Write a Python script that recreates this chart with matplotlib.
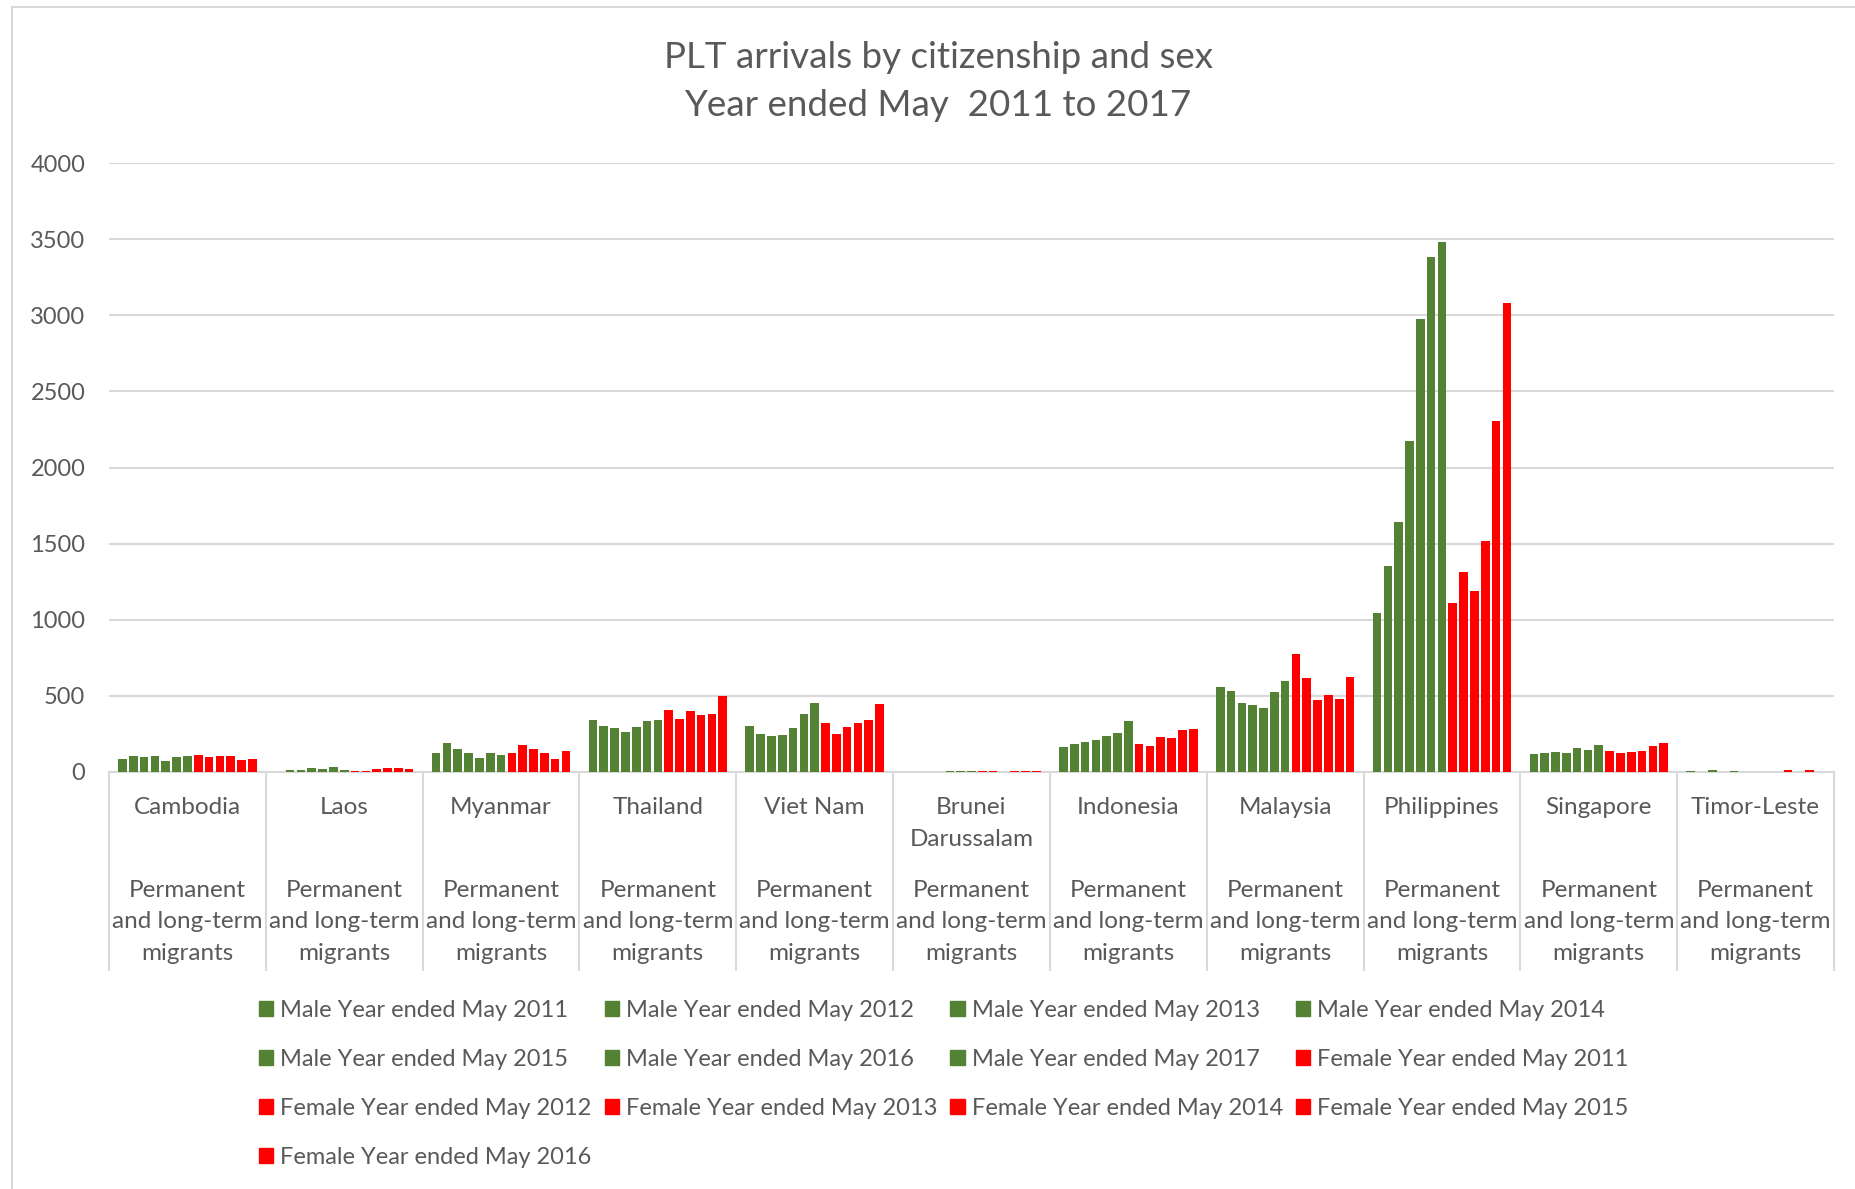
import matplotlib.pyplot as plt
import matplotlib.transforms as mtransforms
from matplotlib.patches import Patch, Rectangle
import numpy as np

plt.rcParams['font.family'] = ['Lato', 'DejaVu Sans']

countries = ['Cambodia', 'Laos', 'Myanmar', 'Thailand', 'Viet Nam', 'Brunei\nDarussalam',
             'Indonesia', 'Malaysia', 'Philippines', 'Singapore', 'Timor-Leste']
sub_label = 'Permanent\nand long-term\nmigrants'

male_years = [2011, 2012, 2013, 2014, 2015, 2016, 2017]
female_years = [2011, 2012, 2013, 2014, 2015, 2016]

# PLT arrivals per year, one list per year in country order
male_counts = [
    [86, 3, 126, 341, 305, 2, 167, 557, 1047, 117, 7],
    [106, 11, 188, 301, 248, 2, 185, 531, 1354, 122, 2],
    [97, 15, 148, 288, 239, 2, 198, 452, 1641, 133, 15],
    [102, 27, 128, 265, 241, 2, 211, 441, 2173, 126, 1],
    [73, 18, 95, 294, 290, 4, 236, 421, 2978, 157, 9],
    [100, 31, 122, 338, 378, 4, 256, 526, 3383, 142, 2],
    [102, 15, 111, 341, 456, 4, 337, 597, 3482, 177, 2],
]
female_counts = [
    [111, 8, 122, 405, 321, 7, 185, 773, 1113, 135, 1],
    [100, 9, 177, 345, 252, 9, 172, 615, 1316, 128, 2],
    [104, 18, 148, 403, 294, 3, 229, 476, 1191, 131, 15],
    [104, 27, 126, 376, 321, 9, 222, 504, 1518, 135, 2],
    [80, 24, 86, 383, 341, 7, 275, 478, 2305, 170, 15],
    [84, 18, 137, 496, 449, 7, 280, 623, 3081, 188, 1],
]

green = '#548235'
red = '#FF0000'
text_col = '#595959'
grid_col = '#D9D9D9'

W, H = 1855, 1189
fig = plt.figure(figsize=(W / 100, H / 100), dpi=100)
ax = fig.add_axes([109 / W, 1 - 772 / H, (1834 - 109) / W, (772 - 163) / H])

# chart area outline
fig.patches.append(Rectangle((12 / W, -0.05), 1.2, 1 - 7 / H + 0.05, transform=fig.transFigure,
                             fill=False, edgecolor=grid_col, linewidth=1.5))

x = np.arange(len(countries))
n_series = len(male_years) + len(female_years)
slot = 0.069
bar_w = slot * 0.8
offsets = (np.arange(n_series) - (n_series - 1) / 2) * slot

handles = []
for k, (yr, vals) in enumerate(zip(male_years, male_counts)):
    ax.bar(x + offsets[k], vals, width=bar_w, color=green, zorder=3)
    handles.append(Patch(color=green, label=f'Male Year ended May {yr}'))
for k, (yr, vals) in enumerate(zip(female_years, female_counts)):
    ax.bar(x + offsets[len(male_years) + k], vals, width=bar_w, color=red, zorder=3)
    handles.append(Patch(color=red, label=f'Female Year ended May {yr}'))

ax.set_xlim(-0.5, len(countries) - 0.5)
ax.set_ylim(0, 4000)
ax.set_yticks(np.arange(0, 4001, 500))
ax.yaxis.grid(True, color=grid_col, linewidth=1.5)
ax.set_axisbelow(True)
for s in ['left', 'right', 'top']:
    ax.spines[s].set_visible(False)
ax.spines['bottom'].set_color(grid_col)
ax.spines['bottom'].set_linewidth(1.5)
ax.tick_params(axis='y', length=0, pad=17, labelsize=17, labelcolor=text_col)
ax.set_xticks([])

# two-level category axis with separators
trans = mtransforms.blended_transform_factory(ax.transData, ax.transAxes)
for b in np.arange(-0.5, len(countries), 1.0):
    ax.plot([b, b], [0, -0.325], transform=trans, color=grid_col, linewidth=1.5, clip_on=False)
for i, name in enumerate(countries):
    ax.text(i, -0.041, name, transform=trans, ha='center', va='top', fontsize=17.5,
            color=text_col, linespacing=1.62)
    ax.text(i, -0.177, sub_label, transform=trans, ha='center', va='top', fontsize=17.5,
            color=text_col, linespacing=1.62)

fig.text(938 / W, 1 - 57 / H, 'PLT arrivals by citizenship and sex', ha='center', va='center',
         fontsize=26.5, color=text_col)
fig.text(938 / W, 1 - 105 / H, 'Year ended May  2011 to 2017', ha='center', va='center',
         fontsize=26.5, color=text_col)

# row-major legend order over 4 columns
order = [0, 4, 8, 12, 1, 5, 9, 2, 6, 10, 3, 7, 11]
leg = fig.legend([handles[i] for i in order], [handles[i].get_label() for i in order],
                 ncol=4, loc='upper left', bbox_to_anchor=(259 / W, 1 - 1000 / H),
                 frameon=False, fontsize=17, labelcolor=text_col, borderpad=0,
                 handlelength=0.6, handleheight=0.6, handletextpad=0.3,
                 columnspacing=0.55, labelspacing=1.19, borderaxespad=0)

fig.savefig('out.png', dpi=100)
